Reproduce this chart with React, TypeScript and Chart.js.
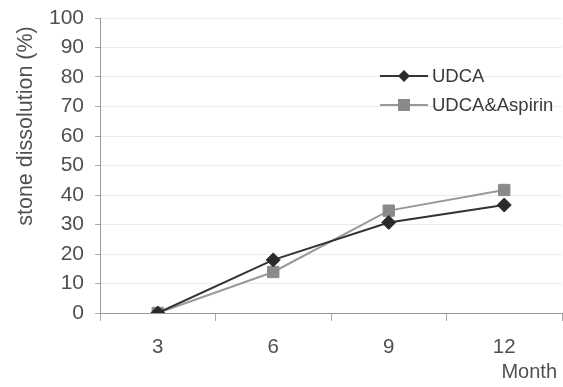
import React, { useEffect, useRef } from "react";
import { Chart, registerables } from "chart.js";

Chart.register(...registerables);

const months = ["3", "6", "9", "12"];
const udca = [0, 18, 30.7, 36.6];
const udcaAspirin = [0, 13.9, 34.7, 41.7];
const seriesNames = ["UDCA", "UDCA&Aspirin"];
const yTitle = "stone dissolution (%)";
const xTitle = "Month";

const FONT = "'Liberation Sans', Arial, sans-serif";
const TEXT = "#505050";

const overlay = {
  id: "overlay",
  afterDraw(chart: any) {
    const ctx = chart.ctx;
    ctx.save();
    ctx.fillStyle = TEXT;
    ctx.font = `21.5px ${FONT}`;
    ctx.textAlign = "center";
    ctx.textBaseline = "middle";
    ctx.translate(26, 126);
    ctx.rotate(-Math.PI / 2);
    ctx.fillText(yTitle, 0, 0);
    ctx.restore();

    ctx.save();
    ctx.fillStyle = TEXT;
    ctx.font = `20px ${FONT}`;
    ctx.textAlign = "right";
    ctx.textBaseline = "middle";
    ctx.fillText(xTitle, 557, 372);
    ctx.restore();

    const items = [
      { label: seriesNames[0], color: "#2a2a2a", line: "#333", style: "diamond", y: 76 },
      { label: seriesNames[1], color: "#8a8a8a", line: "#999", style: "square", y: 105 },
    ];
    items.forEach((it) => {
      ctx.save();
      ctx.strokeStyle = it.line;
      ctx.lineWidth = 2;
      ctx.beginPath();
      ctx.moveTo(380, it.y);
      ctx.lineTo(428, it.y);
      ctx.stroke();
      ctx.fillStyle = it.color;
      if (it.style === "diamond") {
        ctx.beginPath();
        ctx.moveTo(404, it.y - 6);
        ctx.lineTo(410, it.y);
        ctx.lineTo(404, it.y + 6);
        ctx.lineTo(398, it.y);
        ctx.closePath();
        ctx.fill();
      } else {
        ctx.fillRect(398, it.y - 6, 12, 12);
      }
      ctx.fillStyle = "#3a3a3a";
      ctx.font = `18.5px ${FONT}`;
      ctx.textAlign = "left";
      ctx.textBaseline = "middle";
      ctx.fillText(it.label, 432, it.y + 1);
      ctx.restore();
    });
  },
};

export default function App() {
  const ref = useRef<HTMLCanvasElement>(null);
  useEffect(() => {
    const chart = new Chart(ref.current!, {
      type: "line",
      data: {
        labels: months,
        datasets: [
          {
            label: seriesNames[0],
            data: udca,
            borderColor: "#333333",
            backgroundColor: "#2a2a2a",
            borderWidth: 2,
            pointStyle: "rectRot",
            pointRadius: 7,
            pointBorderWidth: 1,
            pointBorderColor: "#2a2a2a",
            tension: 0,
          },
          {
            label: seriesNames[1],
            data: udcaAspirin,
            borderColor: "#999999",
            backgroundColor: "#8a8a8a",
            borderWidth: 2,
            pointStyle: "rect",
            pointRadius: 8,
            pointBorderWidth: 1,
            pointBorderColor: "#8a8a8a",
            tension: 0,
          },
        ],
      },
      options: {
        animation: false,
        responsive: false,
        devicePixelRatio: 1,
        layout: { autoPadding: false, padding: { left: 0, top: 18, right: 1, bottom: 0 } },
        plugins: { legend: { display: false }, tooltip: { enabled: false } },
        scales: {
          x: {
            offset: true,
            grid: {
              offset: true,
              drawOnChartArea: false,
              drawTicks: true,
              tickLength: 8,
              color: "#aaaaaa",
            },
            border: { color: "#999999", width: 1 },
            ticks: {
              color: TEXT,
              font: { family: FONT, size: 20.5 },
              padding: 14,
            },
            afterFit(scale: any) {
              scale.height = 74;
              scale.paddingLeft = 0;
              scale.paddingRight = 0;
            },
          },
          y: {
            min: 0,
            max: 100,
            grid: {
              drawOnChartArea: true,
              color: (c: any) => (c.tick && c.tick.value > 0 ? "rgba(200,200,200,0.35)" : "rgba(0,0,0,0)"),
              tickColor: "#aaaaaa",
              tickLength: 5,
            },
            border: { color: "#999999", width: 1 },
            ticks: {
              stepSize: 10,
              color: TEXT,
              font: { family: FONT, size: 21 },
              padding: 11,
            },
            afterFit(scale: any) {
              scale.width = 100;
              scale.paddingTop = 0;
              scale.paddingBottom = 0;
            },
          },
        },
      },
      plugins: [overlay],
    });
    return () => chart.destroy();
  }, []);
  return (
    <div style={{ position: "fixed", left: 0, top: 0, width: 563, height: 387, background: "#fff" }}>
      <canvas ref={ref} width={563} height={387} style={{ width: 563, height: 387 }} />
    </div>
  );
}
